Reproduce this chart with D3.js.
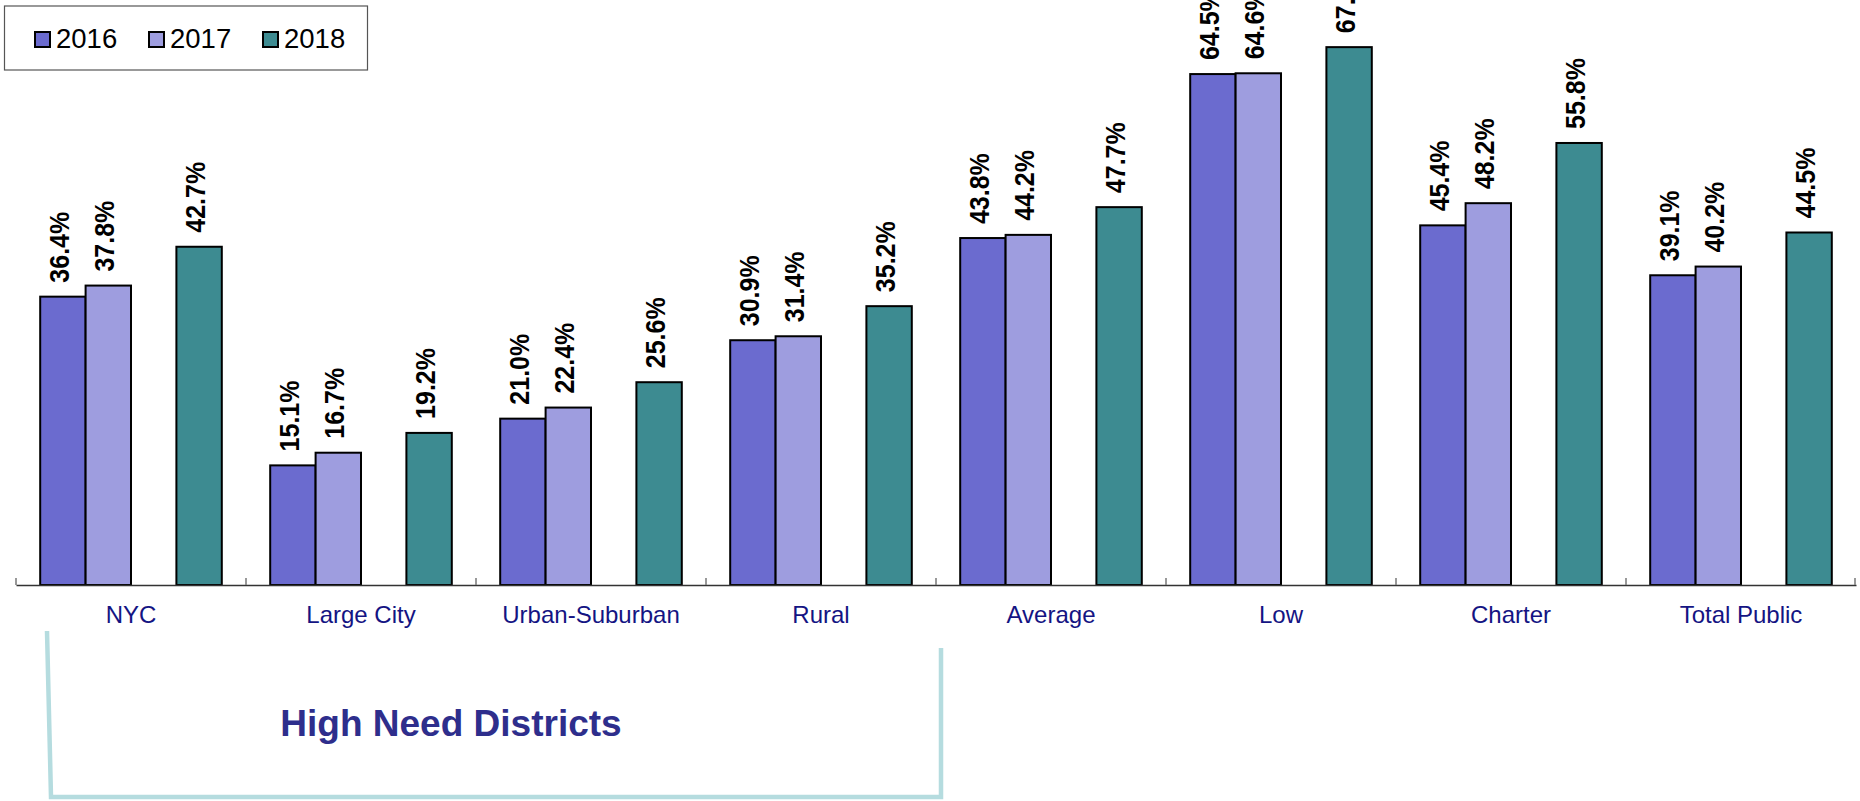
<!DOCTYPE html>
<html>
<head>
<meta charset="utf-8">
<script src="https://cdn.jsdelivr.net/npm/d3@7"></script>
<style>
  html, body { margin: 0; padding: 0; background: #ffffff; }
  svg { display: block; font-family: "Liberation Sans", Arial, sans-serif; }
</style>
</head>
<body>
<svg id="chart" width="1860" height="801"></svg>
<script>
// ---- data ----
const categories = ["NYC", "Large City", "Urban-Suburban", "Rural", "Average", "Low", "Charter", "Total Public"];
const seriesNames = ["2016", "2017", "2018"];
const values2016 = [36.4, 15.1, 21.0, 30.9, 43.8, 64.5, 45.4, 39.1];
const values2017 = [37.8, 16.7, 22.4, 31.4, 44.2, 64.6, 48.2, 40.2];
const values2018 = [42.7, 19.2, 25.6, 35.2, 47.7, 67.9, 55.8, 44.5];
const seriesColors = ["#6b6bcf", "#9e9ddf", "#3d8b91"];
const groupLabel = "High Need Districts";

const seriesValues = [values2016, values2017, values2018];
// slot index inside each category group (slot 2 left empty)
const seriesSlot = [0, 1, 3];

const svg = d3.select("#chart");

const x0 = d3.scaleBand().domain(categories).range([16, 1856]).paddingInner(0).paddingOuter(0);
const x1 = d3.scaleBand().domain([0, 1, 2, 3]).range([0, x0.bandwidth()]).paddingInner(0).paddingOuter(0.533);
const y = d3.scaleLinear().domain([0, 70]).range([585, 30.5]);

// bars
const data = [];
categories.forEach((c, i) => {
  seriesNames.forEach((s, k) => {
    data.push({ cat: c, series: k, value: seriesValues[k][i] });
  });
});

svg.append("g").selectAll("rect").data(data).join("rect")
  .attr("x", d => x0(d.cat) + x1(seriesSlot[d.series]))
  .attr("y", d => y(d.value))
  .attr("width", x1.bandwidth())
  .attr("height", d => y(0) - y(d.value))
  .attr("fill", d => seriesColors[d.series])
  .attr("stroke", "#000")
  .attr("stroke-width", 2);

// value labels (rotated)
svg.append("g").selectAll("text").data(data).join("text")
  .attr("transform", d => {
    const cx = x0(d.cat) + x1(seriesSlot[d.series]) + x1.bandwidth() / 2 - 4;
    return `translate(${cx},${y(d.value) - 14}) rotate(-90) scale(1,1.12)`;
  })
  .attr("dy", "0.36em")
  .attr("text-anchor", "start")
  .attr("font-size", 25)
  .attr("font-weight", "bold")
  .attr("fill", "#000")
  .text(d => d.value.toFixed(1) + "%");

// x axis
const axis = d3.axisBottom(x0).tickSize(0).tickPadding(0);
const gx = svg.append("g").attr("transform", `translate(0,${y(0)})`).call(axis);
gx.select(".domain").attr("stroke", "#333").attr("stroke-width", 1.5);
gx.selectAll(".tick text")
  .attr("y", 38)
  .attr("dy", 0)
  .attr("font-size", 24)
  .attr("font-family", "'Liberation Sans', Arial, sans-serif")
  .attr("fill", "#141483");
// boundary ticks
const bounds = categories.map(c => x0(c)).concat([x0.range()[1] - 1]);
svg.append("g").selectAll("line").data(bounds).join("line")
  .attr("x1", d => d).attr("x2", d => d)
  .attr("y1", y(0) - 7).attr("y2", y(0))
  .attr("stroke", "#777").attr("stroke-width", 1.5);

// legend
const lg = svg.append("g");
lg.append("rect").attr("x", 4.5).attr("y", 6).attr("width", 363).attr("height", 64)
  .attr("fill", "#fff").attr("stroke", "#555").attr("stroke-width", 1.2);
const legendX = d3.scalePoint().domain(seriesNames).range([35, 263]);
seriesNames.forEach((s, k) => {
  lg.append("rect").attr("x", legendX(s)).attr("y", 32).attr("width", 15).attr("height", 15)
    .attr("fill", seriesColors[k]).attr("stroke", "#000").attr("stroke-width", 2);
  lg.append("text").attr("x", legendX(s) + 21).attr("y", 47.5)
    .attr("font-size", 27.5).attr("fill", "#000").text(s);
});

// High need bracket
const firstCat = x0(categories[0]);
const lastHigh = x0(categories[3]) + x0.bandwidth();
svg.append("path")
  .attr("d", `M${firstCat + 31},631 L${firstCat + 35},797 L${lastHigh + 5},797 L${lastHigh + 5},648`)
  .attr("fill", "none").attr("stroke", "#b5dcdf").attr("stroke-width", 4.5);
svg.append("text")
  .attr("x", 451).attr("y", 736)
  .attr("text-anchor", "middle")
  .attr("font-size", 37).attr("font-weight", "bold")
  .attr("fill", "#2e2e8c")
  .text(groupLabel);
</script>
</body>
</html>
